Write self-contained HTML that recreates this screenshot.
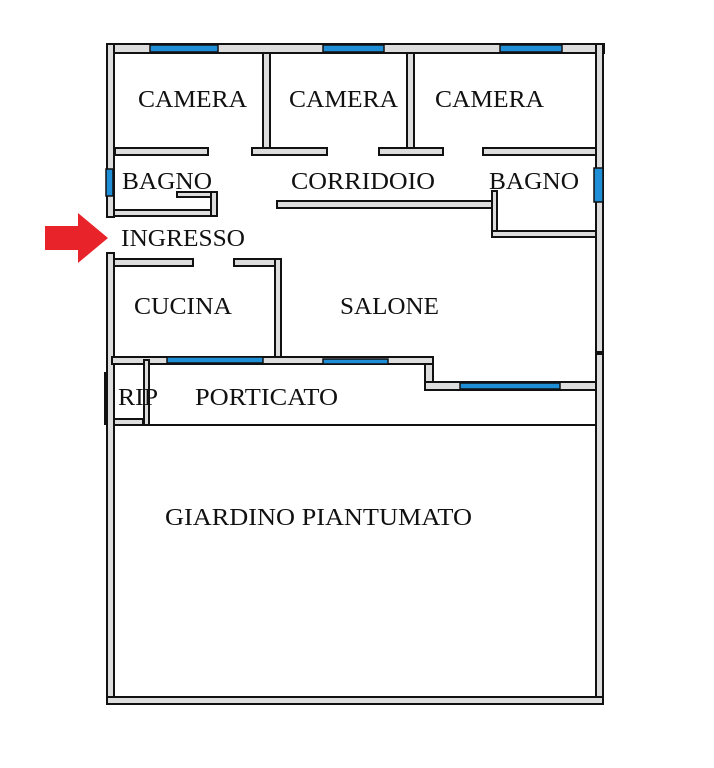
<!DOCTYPE html>
<html><head><style>
html,body{margin:0;padding:0;background:#fff;}
svg{display:block}
text{font-family:"Liberation Serif",serif;font-size:24px;fill:#111;}
</style></head><body>
<svg width="714" height="768" viewBox="0 0 714 768">
<g fill="#ddd" stroke="#111" stroke-width="2">
<rect x="107" y="44" width="497" height="9"/>
<rect x="107" y="44" width="7" height="173"/>
<rect x="107" y="253" width="7" height="451"/>
<rect x="596" y="44" width="7" height="308"/>
<rect x="596" y="354" width="7" height="350"/>
<rect x="107" y="697" width="496" height="7"/>
<rect x="263" y="53" width="7" height="95"/>
<rect x="407" y="53" width="7" height="95"/>
<rect x="115" y="148" width="93" height="7"/>
<rect x="252" y="148" width="75" height="7"/>
<rect x="379" y="148" width="64" height="7"/>
<rect x="483" y="148" width="113" height="7"/>
<rect x="114" y="210" width="103" height="6"/>
<rect x="177" y="192" width="40" height="5"/>
<rect x="211" y="192" width="6" height="24"/>
<rect x="277" y="201" width="218" height="7"/>
<rect x="492" y="191" width="5" height="46"/>
<rect x="492" y="231" width="104" height="6"/>
<rect x="114" y="259" width="79" height="7"/>
<rect x="234" y="259" width="47" height="7"/>
<rect x="275" y="259" width="6" height="98"/>
<rect x="112" y="357" width="321" height="7"/>
<rect x="425" y="364" width="8" height="20"/>
<rect x="425" y="382" width="171" height="8"/>
<rect x="144" y="360" width="5" height="65"/>
<rect x="114" y="419" width="29" height="6"/>
</g>
<line x1="150" y1="425" x2="596" y2="425" stroke="#111" stroke-width="2"/>
<rect x="104" y="372" width="3" height="53" fill="#111"/>
<g fill="#1e8fd6" stroke="#111" stroke-width="1.5">
<rect x="150" y="45" width="68" height="7"/>
<rect x="323" y="45" width="61" height="7"/>
<rect x="500" y="45" width="62" height="7"/>
<rect x="106" y="169" width="7" height="27"/>
<rect x="594" y="168" width="9" height="34"/>
<rect x="167" y="357" width="96" height="6"/>
<rect x="323" y="359" width="65" height="5"/>
<rect x="460" y="383" width="100" height="6"/>
</g>
<polygon points="45,226 78,226 78,213 108,238 78,263 78,250 45,250" fill="#e8232a"/>
<text x="138" y="107" textLength="109" lengthAdjust="spacingAndGlyphs">CAMERA</text>
<text x="289" y="107" textLength="109" lengthAdjust="spacingAndGlyphs">CAMERA</text>
<text x="435" y="107" textLength="109" lengthAdjust="spacingAndGlyphs">CAMERA</text>
<text x="122" y="189" textLength="90" lengthAdjust="spacingAndGlyphs">BAGNO</text>
<text x="291" y="189" textLength="144" lengthAdjust="spacingAndGlyphs">CORRIDOIO</text>
<text x="489" y="189" textLength="90" lengthAdjust="spacingAndGlyphs">BAGNO</text>
<text x="121" y="246" textLength="124" lengthAdjust="spacingAndGlyphs">INGRESSO</text>
<text x="134" y="314" textLength="98" lengthAdjust="spacingAndGlyphs">CUCINA</text>
<text x="340" y="314" textLength="99" lengthAdjust="spacingAndGlyphs">SALONE</text>
<text x="118" y="405" textLength="40" lengthAdjust="spacingAndGlyphs">RIP</text>
<text x="195" y="405" textLength="143" lengthAdjust="spacingAndGlyphs">PORTICATO</text>
<text x="165" y="525" textLength="307" lengthAdjust="spacingAndGlyphs">GIARDINO PIANTUMATO</text>
</svg>
</body></html>
